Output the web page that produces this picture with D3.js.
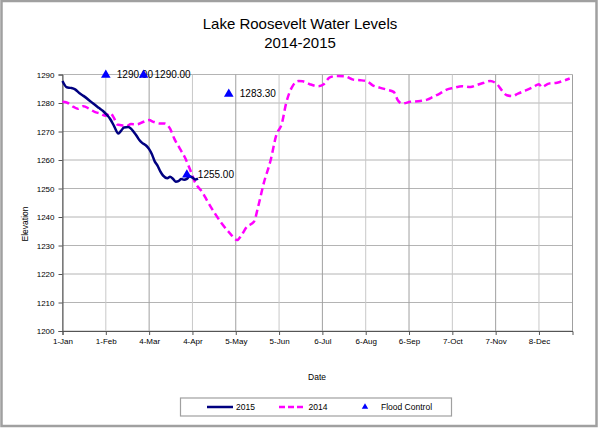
<!DOCTYPE html>
<html>
<head>
<meta charset="utf-8">
<script src="https://cdn.jsdelivr.net/npm/d3@7"></script>
<style>
  body { margin: 0; background: #fff; }
  svg { font-family: "Liberation Sans", Arial, sans-serif; }
</style>
</head>
<body>
<svg id="chart" width="600" height="428"></svg>
<script>
// x axis categories (day of year where each label sits)
const tickLabels = ["1-Jan", "1-Feb", "4-Mar", "4-Apr", "5-May", "5-Jun", "6-Jul", "6-Aug", "6-Sep", "7-Oct", "7-Nov", "8-Dec"];
const tickDays = [0, 31, 62, 93, 124, 155, 186, 217, 248, 279, 310, 341];
const yTicks = [1200, 1210, 1220, 1230, 1240, 1250, 1260, 1270, 1280, 1290];

// [day of year, elevation]
const levels2015 = [
    [0, 1287.7], [3, 1285.5], [6, 1285.3], [9, 1284.8], [12, 1283.5], [15, 1282.5],
    [19, 1281], [22, 1279.8], [26, 1278.3], [29, 1277.2], [32, 1275.7], [34, 1274.5],
    [37, 1271.8], [40, 1269.3], [42, 1270.3], [44, 1271.4], [47, 1271.6], [49, 1271],
    [51, 1269.8], [53, 1268.5], [55, 1267], [57, 1266], [60, 1265], [62, 1263.8],
    [64, 1262], [66, 1259.5], [68, 1258], [70, 1256], [72, 1254.5], [75, 1253.6],
    [77, 1254.1], [79, 1253.4], [81, 1252.4], [83, 1252.6], [85, 1253.3], [87, 1253.1],
    [89, 1253.4], [91, 1254.3], [93, 1253.8], [95, 1253.2], [97, 1253.5]
];

const levels2014 = [
    [0, 1280.4], [3, 1280.2], [8, 1278.6], [11, 1278], [15, 1278.9], [19, 1278],
    [23, 1276.9], [27, 1276.3], [31, 1275.5], [34, 1276.5], [37, 1274.6], [39, 1272.5],
    [42, 1272.2], [46, 1271.9], [49, 1272.6], [53, 1272.5], [58, 1273.4], [62, 1274],
    [65, 1273.4], [70, 1272.8], [73, 1272.8], [77, 1271], [80, 1267.5], [84, 1264],
    [88, 1260.5], [91, 1257], [95, 1252], [100, 1248.8], [104, 1245.3], [109, 1241.3],
    [114, 1237.7], [120, 1234.2], [125, 1231.9], [128, 1233.6], [132, 1236.6],
    [137, 1238.3], [140, 1243.6], [144, 1251.8], [149, 1260], [153, 1268.7],
    [157, 1272.8], [160, 1279.8], [165, 1286.2], [169, 1287.7], [172, 1287.6],
    [177, 1286.6], [183, 1285.9], [187, 1286.6], [191, 1288.9], [196, 1289.5],
    [202, 1289.4], [208, 1288.2], [213, 1288], [218, 1287.6], [222, 1286.2],
    [227, 1285.4], [232, 1284.7], [237, 1283.9], [240, 1281], [243, 1279.8],
    [249, 1280.4], [256, 1280.7], [261, 1281.2], [265, 1282.1], [270, 1283.3],
    [275, 1284.7], [280, 1285.3], [286, 1285.9], [292, 1285.6], [296, 1286.2],
    [301, 1287], [306, 1287.7], [311, 1286.6], [314, 1284.7], [318, 1282.7],
    [322, 1282.4], [326, 1283.3], [332, 1284.5], [337, 1285.6], [341, 1286.6],
    [343, 1285.6], [348, 1286.8], [354, 1287.1], [358, 1287.7], [363, 1288.6]
];

const floodDays = [31, 58, 89, 119];
const floodLevels = [1290, 1290, 1255, 1283.3];

const svg = d3.select("#chart");
const W = 600, H = 428;
const plot = { left: 62.5, right: 572.5, top: 74.5, bottom: 331 };

// outer frame
svg.append("rect")
    .attr("x", 1.5).attr("y", 1).attr("width", W - 5).attr("height", H - 3)
    .attr("fill", "#fff").attr("stroke", "#a0a0a0").attr("stroke-width", 2.5);

const x = d3.scaleLinear().domain([0, 365]).range([plot.left, plot.right]);
const y = d3.scaleLinear().domain([1200, 1290]).range([plot.bottom, plot.top]);

// title
svg.append("text").attr("x", 300).attr("y", 29).attr("text-anchor", "middle")
    .attr("font-size", 15).attr("fill", "#000").text("Lake Roosevelt Water Levels");
svg.append("text").attr("x", 300).attr("y", 48).attr("text-anchor", "middle")
    .attr("font-size", 15).attr("fill", "#000").text("2014-2015");

// grid
const grid = svg.append("g");
grid.selectAll(".hgrid").data(yTicks).enter().append("line")
    .attr("x1", plot.left).attr("x2", plot.right)
    .attr("y1", d => y(d)).attr("y2", d => y(d))
    .attr("stroke", "#b4b4b4").attr("stroke-width", 1);
grid.selectAll(".vgrid").data(tickDays.concat([365])).enter().append("line")
    .attr("x1", d => x(d)).attr("x2", d => x(d))
    .attr("y1", plot.top).attr("y2", plot.bottom)
    .attr("stroke", (d, i) => i % 2 ? "#c8c8c8" : "#a0a0a0").attr("stroke-width", 1);

// axes
const xAxis = d3.axisBottom(x).tickValues(tickDays)
    .tickFormat((d, i) => tickLabels[i]).tickSize(4).tickPadding(3);
const yAxis = d3.axisLeft(y).tickValues(yTicks).tickFormat(d3.format("d"))
    .tickSize(4).tickPadding(4);

const gx = svg.append("g").attr("transform", `translate(0,${plot.bottom})`).call(xAxis);
const gy = svg.append("g").attr("transform", `translate(${plot.left},0)`).call(yAxis);
[gx, gy].forEach(g => {
    g.select(".domain").attr("stroke", "#555");
    g.selectAll(".tick line").attr("stroke", "#555");
    g.selectAll("text").attr("font-size", 8).attr("fill", "#000")
        .attr("font-family", "\"Liberation Sans\", Arial, sans-serif");
});

svg.append("text").attr("transform", "translate(28,224) rotate(-90)")
    .attr("text-anchor", "middle").attr("font-size", 8.5).text("Elevation");
svg.append("text").attr("x", 317).attr("y", 380)
    .attr("text-anchor", "middle").attr("font-size", 8.5).text("Date");

// lines
const line = d3.line().x(d => x(d[0])).y(d => y(d[1])).curve(d3.curveMonotoneX);

svg.append("path").datum(levels2014).attr("d", line)
    .attr("fill", "none").attr("stroke", "#ff00ff").attr("stroke-width", 2.5)
    .attr("stroke-dasharray", "7,4");
svg.append("path").datum(levels2015).attr("d", line)
    .attr("fill", "none").attr("stroke", "#000080").attr("stroke-width", 2.5);

// flood control
const tri = d3.symbol().type(d3.symbolTriangle).size(40);
const flood = floodDays.map((d, i) => [d, floodLevels[i]]);
const fg = svg.append("g");
fg.selectAll("text").data(flood).enter().append("text")
    .attr("x", d => x(d[0]) + 11).attr("y", d => y(d[1]) + 3.5)
    .attr("font-size", 10).attr("fill", "#000")
    .text(d => d[1].toFixed(2));
fg.selectAll("path").data(flood).enter().append("path")
    .attr("d", tri)
    .attr("transform", d => `translate(${x(d[0])},${y(d[1]) + 0.5})`)
    .attr("fill", "#0000ff");

// legend
const lg = svg.append("g");
lg.append("rect").attr("x", 180.5).attr("y", 398).attr("width", 271).attr("height", 18)
    .attr("fill", "#fff").attr("stroke", "#a0a0a0").attr("stroke-width", 1.2);
lg.append("line").attr("x1", 207).attr("x2", 233).attr("y1", 407).attr("y2", 407)
    .attr("stroke", "#000080").attr("stroke-width", 2.5);
lg.append("text").attr("x", 236).attr("y", 410).attr("font-size", 8.5).text("2015");
lg.append("line").attr("x1", 279).attr("x2", 306).attr("y1", 407).attr("y2", 407)
    .attr("stroke", "#ff00ff").attr("stroke-width", 2.5).attr("stroke-dasharray", "6,3");
lg.append("text").attr("x", 308.5).attr("y", 410).attr("font-size", 8.5).text("2014");
lg.append("path").attr("d", d3.symbol().type(d3.symbolTriangle).size(18))
    .attr("transform", "translate(365,407)").attr("fill", "#0000ff");
lg.append("text").attr("x", 381).attr("y", 410).attr("font-size", 8.5).text("Flood Control");
</script>
</body>
</html>
